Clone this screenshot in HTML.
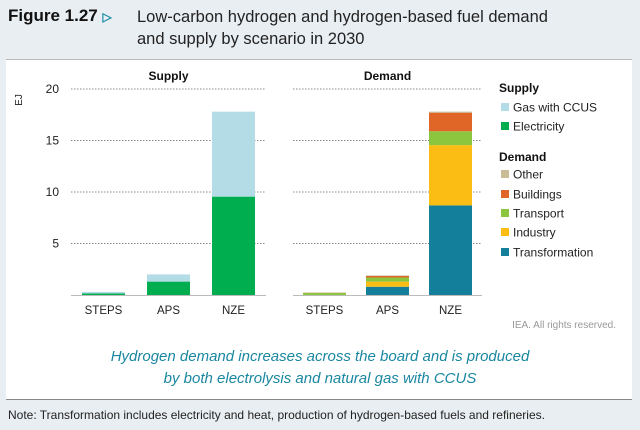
<!DOCTYPE html>
<html><head><meta charset="utf-8"><style>
body{margin:0;width:640px;height:430px;background:#e9eef2;font-family:"Liberation Sans",sans-serif;position:relative;overflow:hidden}
.t{position:absolute;white-space:nowrap}
</style></head><body>
<div class="t" style="left:8px;top:6px;font-size:17px;font-weight:bold;color:#111">Figure 1.27 <span style="color:#1a8ba5;font-size:12px">&#9655;</span></div>
<div class="t" style="left:137px;top:6px;font-size:16.5px;line-height:22px;color:#222">Low-carbon hydrogen and hydrogen-based fuel demand<br>and supply by scenario in 2030</div>
<div style="position:absolute;left:6px;top:59px;width:626px;height:339px;background:#fff;border-top:1px solid #bbb;border-bottom:1px solid #888"></div>
<svg id="chart" width="640" height="430" style="position:absolute;left:0;top:0" font-family="Liberation Sans, sans-serif"></svg>
<div class="t" style="right:24px;top:320px;font-size:10px;color:#999">IEA. All rights reserved.</div>
<div class="t" style="left:0;width:640px;text-align:center;top:346px;font-size:15px;line-height:22px;font-style:italic;color:#1a87a0">Hydrogen demand increases across the board and is produced<br>by both electrolysis and natural gas with CCUS</div>
<div class="t" style="left:8px;top:408px;font-size:12px;color:#222">Note: Transformation includes electricity and heat, production of hydrogen-based fuels and refineries.</div>
<script>
const categories=["STEPS","APS","NZE"];
const yTicks=[5,10,15,20];
const supplyElectricity=[0.15,1.3,9.55];
const supplyGas=[0.15,0.7,8.25];
const demandTransformation=[0,0.8,8.7];
const demandIndustry=[0,0.5,5.85];
const demandTransport=[0.2,0.4,1.35];
const demandBuildings=[0,0.15,1.8];
const demandOther=[0.05,0.05,0.1];
const svg=document.getElementById('chart');
const NS='http://www.w3.org/2000/svg';
function mk(tag,at,txt){const e=document.createElementNS(NS,tag);for(const k in at)e.setAttribute(k,at[k]);if(txt!==undefined)e.textContent=txt;svg.appendChild(e);return e;}
const y0=295,pxPer=10.3;
const y=v=>y0-v*pxPer;
const panels=[{x0:71,x1:266,title:"Supply",series:[[supplyElectricity,"#00ad4f","electricity"],[supplyGas,"#b3dce6","gas-with-ccus"]]},
{x0:293,x1:482,title:"Demand",series:[[demandTransformation,"#137f9b","transformation"],[demandIndustry,"#fbbc13","industry"],[demandTransport,"#8cc63f","transport"],[demandBuildings,"#e06627","buildings"],[demandOther,"#c9bd98","other"]]}];
panels.forEach((p,pi)=>{
 const band=(p.x1-p.x0)/categories.length;
 const xc=i=>p.x0+band*(i+0.5);
 yTicks.forEach(t=>{const g=mk('line',{x1:p.x0,x2:p.x1,y1:y(t),y2:y(t),stroke:'#888','stroke-dasharray':'1.5,1.5','stroke-width':1});
  
  });
 const a=mk('line',{x1:p.x0,x2:p.x1,y1:y0+0.5,y2:y0+0.5,stroke:'#bbb'});
 
 
 const tt=mk('text',{x:(p.x0+p.x1)/2,y:80,'text-anchor':'middle','font-size':12,'font-weight':'bold',fill:'#111'},p.title);
 
 
 categories.forEach((c,i)=>{
  let base=0;
  p.series.forEach(s=>{const v=s[0][i];if(v<=0)return;
   const r=mk('rect',{x:xc(i)-21.5,width:43,y:y(base+v),height:v*pxPer,fill:s[1]});
   
   
   base+=v;});
  const l=mk('text',{x:xc(i),y:314,'text-anchor':'middle','font-size':11.5,fill:'#222'},c);
  
  
 });
});
yTicks.forEach(t=>{const l=mk('text',{x:59,y:y(t)+4,'text-anchor':'end','font-size':12,fill:'#222'},t);
 
 });
const ej=mk('text',{x:0,y:0,transform:'translate(22,100) rotate(-90)','text-anchor':'middle','font-size':10,fill:'#222'},'EJ');


const legend=[["h","Supply",88],["#b3dce6","Gas with CCUS",107],["#00ad4f","Electricity",126],["h","Demand",157],["#c9bd98","Other",174],["#e06627","Buildings",194],["#8cc63f","Transport",213],["#fbbc13","Industry",232],["#137f9b","Transformation",252]];
legend.forEach(e=>{
 if(e[0]==="h"){const h=mk('text',{x:499,y:e[2]+4,'font-size':12,'font-weight':'bold',fill:'#111'},e[1]);
  
  return;}
 const r=mk('rect',{x:501,y:e[2]-4,width:8,height:8,fill:e[0]});
 
 
 const t=mk('text',{x:513,y:e[2]+4.5,'font-size':12,fill:'#222'},e[1]);
 
 
});
</script>
</body></html>
